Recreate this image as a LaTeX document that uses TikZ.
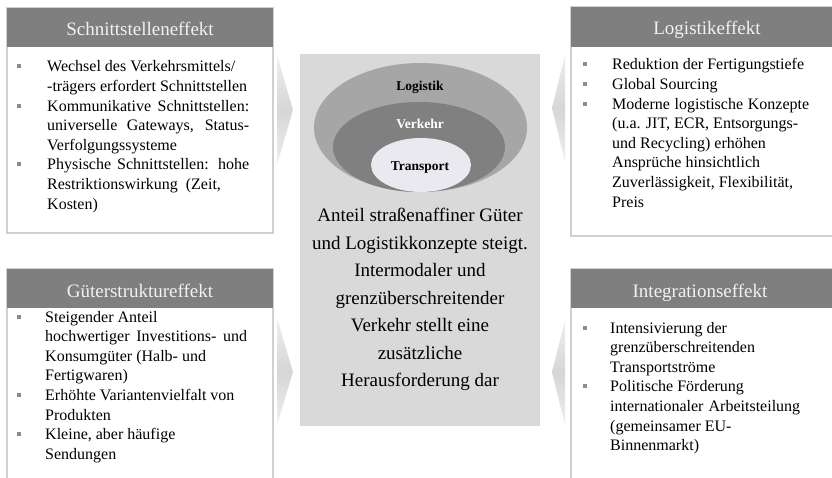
\documentclass[tikz,border=0pt]{standalone}
\usepackage{fontspec}
\setmainfont{Liberation Serif}
\usepackage{array}
\usetikzlibrary{shapes.geometric}
\definecolor{hdr}{HTML}{7F7F7F}
\definecolor{bord}{HTML}{D0D0D0}
\definecolor{centerfill}{HTML}{D9D9D9}
\definecolor{outerring}{HTML}{A6A6A6}
\definecolor{middlering}{HTML}{808080}
\definecolor{innerring}{HTML}{E9E9EF}
\definecolor{bul}{HTML}{8C8C8C}
\definecolor{chev}{HTML}{D6D6D6}
\definecolor{hdrtext}{HTML}{F2F2F2}
\newcommand{\bx}{\textcolor{bul}{\rule[3.5pt]{4pt}{4pt}}}
\newcommand{\jl}[2]{\makebox[#1][s]{#2}}
\begin{document}
\begin{tikzpicture}[x=1pt,y=-1pt,
  panel/.style={draw=bord, line width=1.2pt, fill=white},
  header/.style={fill=hdr},
  headtext/.style={anchor=base, text=hdrtext, font=\fontsize{19}{22}\selectfont, inner sep=0},
  bodytext/.style={anchor=base west, inner sep=0, font=\fontsize{16}{19.6}\selectfont},
  chevron/.style={top color=white!60!chev, bottom color=white!60!chev, middle color=chev, draw=none},
  ring/.style={ellipse, inner sep=0, draw=none},
  ringlabel/.style={anchor=base, inner sep=0, font=\fontsize{13.5}{16}\selectfont\bfseries}]
\useasboundingbox (0,0) rectangle (832,478);
\clip (0,0) rectangle (832,478);

% panels
\draw[panel] (7,8) rectangle (273,233);
\fill[header] (7,8) rectangle (273,47);
\draw[panel] (571,7) rectangle (845,236);
\fill[header] (571,7) rectangle (845,47);
\draw[panel] (7,269) rectangle (273,490);
\fill[header] (7,269) rectangle (273,308);
\draw[panel] (571,269) rectangle (845,490);
\fill[header] (571,269) rectangle (845,308);

\node[headtext] (hTL) at (140,36) {Schnittstelleneffekt};
\node[headtext] (hTR) at (707,35) {Logistikeffekt};
\node[headtext] (hBL) at (140,297) {Güterstruktureffekt};
\node[headtext] (hBR) at (700,297) {Integrationseffekt};

% chevrons
\shade[chevron] (277,55) -- (293,110) -- (277,165) -- cycle;
\shade[chevron] (565,55) -- (552,108) -- (565,162) -- cycle;
\shade[chevron] (277,318) -- (293,372) -- (277,425) -- cycle;
\shade[chevron] (565,320) -- (552,372) -- (565,425) -- cycle;

% center
\fill[centerfill] (300,54) rectangle (540,426);
\node[ring, fill=outerring, minimum width=213pt, minimum height=129pt] (outerE) at (420.5,127.5) {};
\node[ring, fill=middlering, minimum width=172pt, minimum height=90pt] (middleE) at (419,147) {};
\node[ring, fill=innerring, minimum width=100pt, minimum height=54pt] (innerE) at (421,165) {};
\node[ringlabel] (lLog) at (420,91) {Logistik};
\node[ringlabel, text=white] (lVer) at (420,129) {Verkehr};
\node[ringlabel] (lTra) at (420,171) {Transport};

\node[anchor=base, inner sep=0, font=\fontsize{19}{27.5}\selectfont] (centerText) at (420,222) {%
\begin{tabular}[t]{@{}c@{}}
Anteil straßenaffiner Güter\\
und Logistikkonzepte steigt.\\
Intermodaler und\\
grenzüberschreitender\\
Verkehr stellt eine\\
zusätzliche\\
Herausforderung dar
\end{tabular}};

% body texts
\node[bodytext] (tTL) at (17,72) {%
\begin{tabular}[t]{@{}p{30pt}@{}l@{}}
\bx & Wechsel des Verkehrsmittels/\\
 & -trägers erfordert Schnittstellen\\
\bx & \jl{202pt}{Kommunikative Schnittstellen:}\\
 & \jl{202pt}{universelle Gateways, Status-}\\
 & Verfolgungssysteme\\
\bx & \jl{202pt}{Physische Schnittstellen: hohe}\\
 & Restriktionswirkung \ (Zeit,\\
 & Kosten)
\end{tabular}};

\node[bodytext] (tTR) at (583,70) {%
\begin{tabular}[t]{@{}p{29pt}@{}l@{}}
\bx & Reduktion der Fertigungstiefe\\
\bx & Global Sourcing\\
\bx & \jl{197pt}{Moderne logistische Konzepte}\\
 & (u.a. JIT, ECR, Entsorgungs-\\
 & und Recycling) erhöhen\\
 & Ansprüche hinsichtlich\\
 & Zuverlässigkeit, Flexibilität,\\
 & Preis
\end{tabular}};

\node[bodytext] (tBL) at (17,322) {%
\begin{tabular}[t]{@{}p{28pt}@{}l@{}}
\bx & Steigender Anteil\\
 & \jl{202pt}{hochwertiger Investitions- und}\\
 & Konsumgüter (Halb- und\\
 & Fertigwaren)\\
\bx & Erhöhte Variantenvielfalt von\\
 & Produkten\\
\bx & Kleine, aber häufige\\
 & Sendungen
\end{tabular}};

\node[bodytext] (tBR) at (583,333) {%
\begin{tabular}[t]{@{}p{27pt}@{}l@{}}
\bx & Intensivierung der\\
 & grenzüberschreitenden\\
 & Transportströme\\
\bx & Politische Förderung\\
 & \jl{190pt}{internationaler Arbeitsteilung}\\
 & (gemeinsamer EU-\\
 & Binnenmarkt)
\end{tabular}};
\end{tikzpicture}
\end{document}
